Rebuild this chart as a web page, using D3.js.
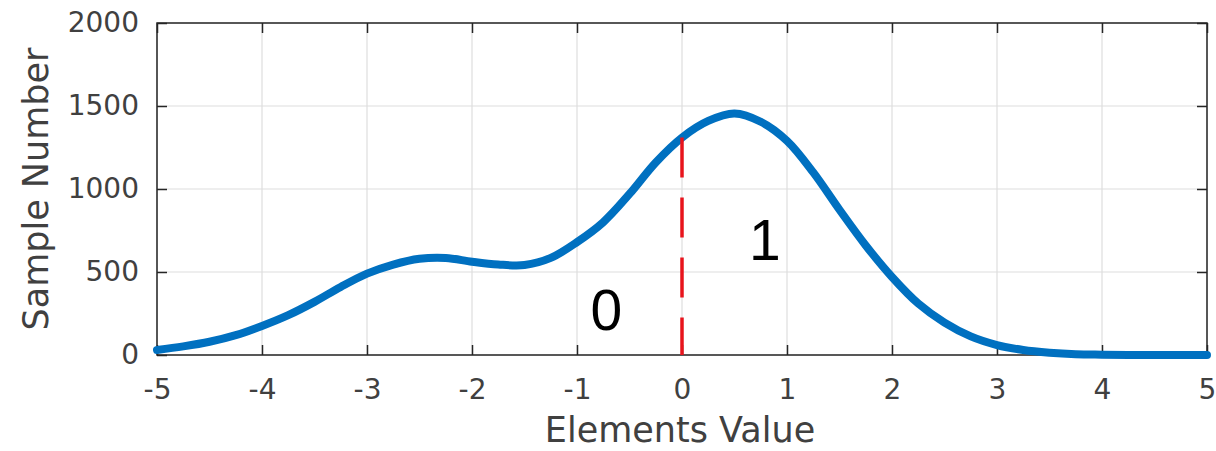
<!DOCTYPE html>
<html>
<head>
<meta charset="utf-8">
<script src="https://cdn.jsdelivr.net/npm/d3@7"></script>
<style>
  body { margin: 0; background: #fff; }
  #chart text { font-family: "DejaVu Sans", sans-serif; }
</style>
</head>
<body>
<div id="chart"></div>
<script>
// element values (x) and how many samples fall at each
const elementValues = [-5, -4.75, -4.5, -4.25, -4, -3.75, -3.5, -3.25, -3, -2.75, -2.5, -2.25, -2, -1.75, -1.5, -1.25,
  -1, -0.75, -0.5, -0.25, 0, 0.25, 0.5, 0.75, 1, 1.25, 1.5, 1.75, 2, 2.25, 2.5, 2.75, 3, 3.25, 3.5, 3.75, 4, 4.25, 4.5, 4.75, 5]
const sampleNumbers = [30, 52, 80, 120, 175, 240, 320, 410, 490, 545, 580, 585, 562, 545, 542, 585,
  680, 800, 970, 1160, 1310, 1410, 1455, 1405, 1290, 1100, 875, 660, 470, 310, 195, 112, 60, 30, 14, 5, 2, 0, 0, 0, 0]

const xTicks = [-5, -4, -3, -2, -1, 0, 1, 2, 3, 4, 5]
const yTicks = [0, 500, 1000, 1500, 2000]

// decision threshold and the two class labels
const threshold = [0]
const thresholdTop = [1310]
const classLabels = ["0", "1"]
const classLabelX = [-0.72, 0.79]
const classLabelY = [150, 572]

const margin = {top: 23, right: 9, bottom: 96, left: 157}
const width = 1216, height = 451
const visWidth = width - margin.left - margin.right
const visHeight = height - margin.top - margin.bottom

const xscale = d3.scaleLinear().domain([-5, 5]).range([0, visWidth])
const yscale = d3.scaleLinear().domain([0, 2000]).range([visHeight, 0])

const svg = d3.select('#chart').append('svg')
    .attr('width', width)
    .attr('height', height)

const g = svg.append('g')
    .attr('transform', `translate(${margin.left}, ${margin.top})`)

// grid
g.append('g')
  .selectAll('line')
  .data(xTicks)
  .join('line')
    .attr('x1', d => xscale(d)).attr('x2', d => xscale(d))
    .attr('y1', 0).attr('y2', visHeight)
    .attr('stroke', '#dedede').attr('stroke-width', 1.2)

g.append('g')
  .selectAll('line')
  .data(yTicks)
  .join('line')
    .attr('y1', d => yscale(d)).attr('y2', d => yscale(d))
    .attr('x1', 0).attr('x2', visWidth)
    .attr('stroke', '#dedede').attr('stroke-width', 1.2)

// axes, ticks pointing inward like matlab
const axisColor = '#262626'
const plain = d => String(d)   // keep "-5" with a hyphen, no thousands comma
const styleAxis = function(sel) {
  sel.select('.domain').remove()
  sel.selectAll('.tick line').attr('stroke', axisColor).attr('stroke-width', 1.5)
  sel.selectAll('.tick text')
    .attr('fill', '#404040')
    .style('font-size', '28px')
}

g.append('g')
    .attr('transform', `translate(0, ${visHeight})`)
    .call(d3.axisBottom(xscale).tickValues(xTicks).tickFormat(plain).tickSizeInner(-10).tickPadding(24))
    .call(styleAxis)

g.append('g')
    .call(d3.axisTop(xscale).tickValues(xTicks).tickSizeInner(-10).tickFormat(''))
    .call(styleAxis)

g.append('g')
    .call(d3.axisLeft(yscale).tickValues(yTicks).tickFormat(plain).tickSizeInner(-10).tickPadding(18))
    .call(styleAxis)

g.append('g')
    .attr('transform', `translate(${visWidth}, 0)`)
    .call(d3.axisRight(yscale).tickValues(yTicks).tickSizeInner(-10).tickFormat(''))
    .call(styleAxis)

// box
g.append('rect')
    .attr('width', visWidth)
    .attr('height', visHeight)
    .attr('fill', 'none')
    .attr('stroke', axisColor)
    .attr('stroke-width', 1.5)

// axis labels
svg.append('text')
    .attr('x', margin.left + xscale(0) - 2)
    .attr('y', 442)
    .attr('text-anchor', 'middle')
    .attr('fill', '#404040')
    .style('font-size', '35px')
    .text('Elements Value')

svg.append('text')
    .attr('transform', `translate(48, ${margin.top + visHeight / 2}) rotate(-90)`)
    .attr('text-anchor', 'middle')
    .attr('fill', '#404040')
    .style('font-size', '35px')
    .text('Sample Number')

// the distribution curve
const curveData = elementValues.map((v, i) => ({x: v, y: sampleNumbers[i]}))

g.append('path')
    .datum(curveData)
    .attr('fill', 'none')
    .attr('stroke', '#0070C0')
    .attr('stroke-width', 8)
    .attr('stroke-linejoin', 'round')
    .attr('stroke-linecap', 'round')
    .attr('d', d3.line()
      .x(d => xscale(d.x))
      .y(d => yscale(d.y))
      .curve(d3.curveCatmullRom))

// threshold line
g.selectAll('.thresh')
  .data(threshold)
  .join('line')
    .attr('class', 'thresh')
    .attr('x1', d => xscale(d)).attr('x2', d => xscale(d))
    .attr('y1', (d, i) => yscale(thresholdTop[i]))
    .attr('y2', yscale(0))
    .attr('stroke', '#e8141c')
    .attr('stroke-width', 3.5)
    .attr('stroke-dasharray', '40,20')

// class labels
g.selectAll('.cls')
  .data(classLabels)
  .join('text')
    .attr('class', 'cls')
    .attr('x', (d, i) => xscale(classLabelX[i]))
    .attr('y', (d, i) => yscale(classLabelY[i]))
    .attr('text-anchor', 'middle')
    .attr('fill', '#000')
    .style('font-family', '"Liberation Sans", Arial, sans-serif')
    .style('font-size', '57px')
    .text(d => d)
</script>
</body>
</html>
